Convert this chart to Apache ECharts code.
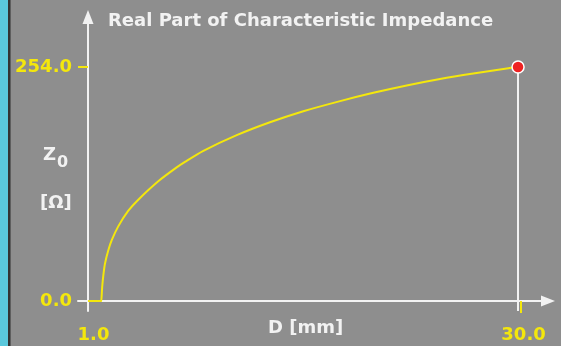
<!DOCTYPE html>
<html>
<head>
<meta charset="utf-8">
<script src="https://cdn.jsdelivr.net/npm/echarts@6/dist/echarts.min.js"></script>
<style>
  html, body { margin: 0; padding: 0; background: #8e8e8e; }
  #wrap { position: relative; width: 561px; height: 346px; background: #8e8e8e; overflow: hidden; }
  #strip { position: absolute; left: 0; top: 0; width: 8px; height: 346px; background: #5ac8dc; }
  #edge { position: absolute; left: 8px; top: 0; width: 2px; height: 346px; background: #333333; }
  #edge2 { position: absolute; left: 10px; top: 0; width: 1px; height: 346px; background: #5e5e5e; }
  #chart { position: absolute; left: 0; top: 0; width: 561px; height: 346px; }
</style>
</head>
<body>
<div id="wrap">
  <div id="strip"></div><div id="edge"></div><div id="edge2"></div>
  <div id="chart"></div>
</div>
<script>
// ---- data ----
const dValues = [1.0, 1.90, 1.92, 1.96, 2.05, 2.15, 2.37, 2.60, 3.04, 3.72, 4.39, 5.74, 6.98, 7.54, 8.78, 11.03, 13.27, 15.52, 18.0, 20.24, 22.49, 24.74, 26.98, 29.24, 30.0];
const zValues = [0, 0, 0, 16, 30, 41, 55, 66, 81, 98, 110, 130, 145, 151, 163, 180, 194, 206, 217, 226, 234, 241, 247, 252.5, 254];
const xTickLabels = [1.0, 30.0];
const yTickLabels = [0.0, 254.0];
const titleText = 'Real Part of Characteristic Impedance';
const xName = 'D [mm]';

const curve = dValues.map((d, i) => [d, zValues[i]]);
const lastD = dValues[dValues.length - 1];
const lastZ = zValues[zValues.length - 1];

// axis extents (so the axis lines overshoot the plotted range like the reference)
const xMin = 0.3256, xMax = 32.02;
const yMin = -10.86, yMax = 308.3;

const yellow = '#f4e70c';
const white = '#f2f2f2';
const font = 'DejaVu Sans';
const fw = 'bold';

const chart = echarts.init(document.getElementById('chart'), null, { renderer: 'canvas' });
chart.setOption({
  animation: false,
  backgroundColor: 'transparent',
  grid: { left: 78, right: 13, top: 17, bottom: 35, containLabel: false },
  title: [
    { text: titleText, left: 103, top: 7,
      textStyle: { color: white, fontFamily: font, fontSize: 18, fontWeight: fw } },
    { text: '{z|Z}{s|0}', left: 38, top: 141,
      textStyle: { rich: {
        z: { color: white, fontFamily: font, fontSize: 18, fontWeight: fw, verticalAlign: 'top', lineHeight: 22 },
        s: { color: white, fontFamily: font, fontSize: 16, fontWeight: fw, verticalAlign: 'top', lineHeight: 22, padding: [9, 0, 0, 1] }
      } } },
    { text: '[Ω]', left: 35, top: 189,
      textStyle: { color: white, fontFamily: font, fontSize: 18, fontWeight: fw } },
    { text: xName, left: 263, top: 314,
      textStyle: { color: white, fontFamily: font, fontSize: 18, fontWeight: fw } }
  ],
  xAxis: [
    {
      type: 'value', min: xMin, max: xMax, position: 'bottom',
      axisLine: { show: true, onZero: true, symbol: ['none', 'triangle'], symbolSize: [11, 14],
        lineStyle: { color: white, width: 2 } },
      axisTick: { show: true, customValues: [lastD + 0.2], length: 12, inside: false,
        lineStyle: { color: yellow, width: 2 } },
      axisLabel: { show: true, customValues: xTickLabels, margin: 15, padding: [0, 0, 0, 11],
        color: yellow, fontFamily: font, fontSize: 18, fontWeight: fw, formatter: v => v.toFixed(1) },
      splitLine: { show: false }
    },
    {
      type: 'value', min: xMin, max: xMax, position: 'bottom',
      axisLine: { show: false, onZero: true },
      axisTick: { show: true, customValues: [lastD + 0.2], length: 8, inside: true,
        lineStyle: { color: yellow, width: 2 } },
      axisLabel: { show: false },
      splitLine: { show: false }
    }
  ],
  yAxis: {
    type: 'value', min: yMin, max: yMax, position: 'left', offset: -10,
    axisLine: { show: true, onZero: false, symbol: ['none', 'triangle'], symbolSize: [11, 14],
      lineStyle: { color: white, width: 2 } },
    axisTick: { show: true, customValues: [yTickLabels[1]], length: 10,
      lineStyle: { color: yellow, width: 2 } },
    axisLabel: { show: true, customValues: yTickLabels, margin: 16,
      color: yellow, fontFamily: font, fontSize: 18, fontWeight: fw, formatter: v => v.toFixed(1) },
    splitLine: { show: false }
  },
  series: [
    {
      type: 'line', data: curve, showSymbol: false, symbol: 'none',
      smooth: 0.25,
      lineStyle: { color: yellow, width: 2 },
      markLine: {
        silent: true, symbol: ['none', 'none'], label: { show: false },
        lineStyle: { color: white, width: 2, type: 'solid' },
        data: [[{ coord: [lastD, lastZ] }, { coord: [lastD, yMin] }]]
      },
      z: 3
    },
    {
      type: 'scatter', data: [[lastD, lastZ]], symbol: 'circle', symbolSize: 12,
      itemStyle: { color: '#ee2222', borderColor: '#ffffff', borderWidth: 1.5, opacity: 1 },
      z: 6
    }
  ]
});
</script>
</body>
</html>
